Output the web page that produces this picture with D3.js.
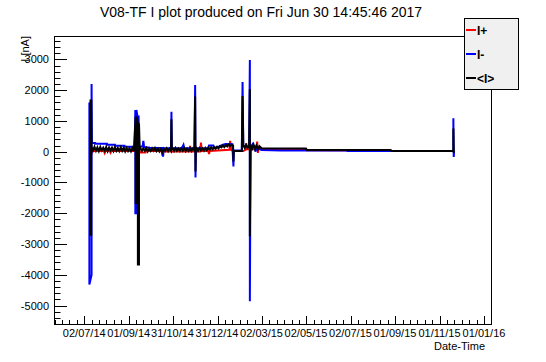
<!DOCTYPE html>
<html>
<head>
<meta charset="utf-8">
<script src="https://cdn.jsdelivr.net/npm/d3@7"></script>
<style>
body { margin: 0; background: #fff; }
svg { display: block; font-family: "Liberation Sans", Arial, sans-serif; }
</style>
</head>
<body>
<div id="display"><svg width="546" height="362"></svg></div>
<script>
// tick labels of the time axis (dd/mm/yy)
var tickLabels = ["02/07/14","01/09/14","31/10/14","31/12/14","02/03/15",
		  "02/05/15","02/07/15","01/09/15","01/11/15","01/01/16"];
var yTicks = [-5000,-4000,-3000,-2000,-1000,0,1000,2000,3000];

// I+ (red)
var iPlus = [
    ["2014-07-10", 0], ["2014-07-12", -60], ["2014-07-13", 20], ["2014-07-29", 20],
    ["2014-07-30", -40], ["2014-07-31", 20], ["2014-08-06", 20], ["2014-08-07", -30],
    ["2014-08-08", 20], ["2014-09-16", 20], ["2014-09-17", -30], ["2014-09-24", -30],
    ["2014-09-25", 20], ["2014-10-16", 20], ["2014-10-17", -125], ["2014-10-18", 10],
    ["2014-11-23", 10], ["2014-11-24", 190], ["2014-11-25", 10], ["2014-12-08", 10],
    ["2014-12-09", 300], ["2014-12-10", 20], ["2014-12-19", 20], ["2014-12-20", -75],
    ["2014-12-21", 20], ["2015-01-17", 60], ["2015-01-18", 350], ["2015-01-19", 60],
    ["2015-01-22", 20], ["2015-02-05", 20], ["2015-02-08", 60], ["2015-02-09", 275],
    ["2015-02-10", 80], ["2015-02-23", 80], ["2015-02-24", 330], ["2015-02-25", -40],
    ["2015-02-26", 90], ["2015-05-02", 80], ["2015-05-03", 50], ["2015-08-26", 40],
    ["2015-08-27", 25], ["2015-11-21", 20]
];

// I- (blue)
var iMinus = [
    ["2014-07-09", 1600], ["2014-07-09", -4320], ["2014-07-12", -4000],
    ["2014-07-12", 2200], ["2014-07-12 12", 280], ["2014-07-17", 280],
    ["2014-07-17", 255], ["2014-08-02", 255], ["2014-08-02", 225], ["2014-08-13", 225],
    ["2014-08-13", 190], ["2014-08-26", 190], ["2014-08-26", 160], ["2014-09-09", 160],
    ["2014-09-10", 1355], ["2014-09-10", -2000], ["2014-09-11 12", -2000],
    ["2014-09-11 12", 1355], ["2014-09-13", 1140], ["2014-09-14 12", 1140],
    ["2014-09-15", 170], ["2014-09-20", 170], ["2014-09-21", 350], ["2014-09-22", 150],
    ["2014-09-30", 130], ["2014-10-17", 120], ["2014-10-18", -160], ["2014-10-19", 110],
    ["2014-10-29", 110], ["2014-10-29 12", 1300], ["2014-10-30", 110], ["2014-11-13", 120],
    ["2014-11-15", 220], ["2014-11-16", 110], ["2014-11-30", 110], ["2014-12-01", 2166],
    ["2014-12-01 12", -840], ["2014-12-02", 120], ["2014-12-19", 110], ["2014-12-20", 200],
    ["2014-12-26", 200], ["2014-12-27", 120], ["2015-01-03", 170], ["2015-01-08", 230],
    ["2015-01-12", 250], ["2015-01-21", 240], ["2015-01-22 12", -483], ["2015-01-23", 40],
    ["2015-02-03", 40], ["2015-02-04", 2263], ["2015-02-05", 180], ["2015-02-13", 150],
    ["2015-02-14", 2977], ["2015-02-14", -4860], ["2015-02-15", 150], ["2015-02-18", 250],
    ["2015-02-21", 100], ["2015-02-22", 0], ["2015-02-23", 150], ["2015-03-02", 55],
    ["2015-03-28", 40], ["2015-06-28", 40], ["2015-06-28", 20], ["2015-11-20", 20],
    ["2015-11-20", 1090], ["2015-11-20 12", -170], ["2015-11-21", 20]
];

// <I> (black)
var iMean = [
    ["2014-07-10 12", 120], ["2014-07-10 12", 1700], ["2014-07-10 12", -2700],
    ["2014-07-11 12", -2700], ["2014-07-11 12", 1700], ["2014-07-12", 150],
    ["2014-07-14", 40], ["2014-07-16", 160], ["2014-07-18", 30], ["2014-07-20", 140],
    ["2014-07-22", 20], ["2014-07-24", 150], ["2014-07-26", 40], ["2014-07-28", 130],
    ["2014-07-30", 30], ["2014-08-01", 150], ["2014-08-03", 20], ["2014-08-05", 140],
    ["2014-08-07", 40], ["2014-08-09", 130], ["2014-08-11", 20], ["2014-08-13", 150],
    ["2014-08-15", 30], ["2014-08-17", 120], ["2014-08-19", 20], ["2014-08-21", 140],
    ["2014-08-23", 30], ["2014-08-25", 130], ["2014-08-27", 10], ["2014-08-29", 120],
    ["2014-08-31", 20], ["2014-09-02", 110], ["2014-09-04", 10], ["2014-09-06", 120],
    ["2014-09-08", 20], ["2014-09-10 12", 1140], ["2014-09-10 12", -1670],
    ["2014-09-12", -1670], ["2014-09-12", 1140], ["2014-09-13 12", 920],
    ["2014-09-13 12", -3670], ["2014-09-15", -3670], ["2014-09-15", 920],
    ["2014-09-16", 100], ["2014-09-17", 120], ["2014-09-19", 20], ["2014-09-21", 110],
    ["2014-09-23", 30], ["2014-09-25", 120], ["2014-09-27", 10], ["2014-09-29", 100],
    ["2014-10-01", 20], ["2014-10-03", 110], ["2014-10-05", 30], ["2014-10-07", 120],
    ["2014-10-09", 20], ["2014-10-11", 100], ["2014-10-13", 10], ["2014-10-15", 90],
    ["2014-10-17", -20], ["2014-10-19", 100], ["2014-10-21", 30], ["2014-10-23", 110],
    ["2014-10-25", 20], ["2014-10-27", 100], ["2014-10-29", 30], ["2014-10-29 12", 1050],
    ["2014-10-30", 60], ["2014-10-31", 110], ["2014-11-02", 20], ["2014-11-04", 120],
    ["2014-11-06", 30], ["2014-11-08", 100], ["2014-11-10", 20], ["2014-11-12", 110],
    ["2014-11-14", 30], ["2014-11-16", 120], ["2014-11-18", 20], ["2014-11-20", 100],
    ["2014-11-22", 30], ["2014-11-24", 110], ["2014-11-26", 20], ["2014-11-28", 100],
    ["2014-11-30", 40], ["2014-12-01", 1790], ["2014-12-01 12", -645], ["2014-12-02", 60],
    ["2014-12-03", 110], ["2014-12-05", 30], ["2014-12-07", 120], ["2014-12-09", 40],
    ["2014-12-11", 110], ["2014-12-13", 30], ["2014-12-15", 120], ["2014-12-17", 50],
    ["2014-12-19", 130], ["2014-12-21", 60], ["2014-12-23", 140], ["2014-12-25", 80],
    ["2014-12-27", 150], ["2014-12-29", 90], ["2014-12-31", 160], ["2015-01-02", 110],
    ["2015-01-04", 180], ["2015-01-06", 140], ["2015-01-08", 200], ["2015-01-10", 150],
    ["2015-01-12", 220], ["2015-01-14", 170], ["2015-01-16", 230], ["2015-01-18", 180],
    ["2015-01-20", 230], ["2015-01-22", 200], ["2015-01-22 12", -320], ["2015-01-23", 26],
    ["2015-02-03", 26], ["2015-02-04", 1810], ["2015-02-05", 220], ["2015-02-07", 120],
    ["2015-02-09", 220], ["2015-02-11", 130], ["2015-02-13", 200], ["2015-02-14", 2026],
    ["2015-02-14", -2752], ["2015-02-15", 200], ["2015-02-17", 100], ["2015-02-19", 230],
    ["2015-02-21", 90], ["2015-02-23", 200], ["2015-02-25", 80], ["2015-02-27", 180],
    ["2015-03-02", 110], ["2015-05-02", 100], ["2015-05-03", 55], ["2015-08-26", 55],
    ["2015-08-27", 25], ["2015-11-20", 25], ["2015-11-20", 750], ["2015-11-20 12", -30],
    ["2015-11-21", 25]
];

var parseDay = d3.utcParse("%Y-%m-%d"), parseHour = d3.utcParse("%Y-%m-%d %H");
function parse(s) { return s.length > 10 ? parseHour(s) : parseDay(s); }
var parseTick = d3.utcParse("%d/%m/%y");

var svg = d3.select("#display svg");
var L = 54, R = 491, T = 36, B = 324;

var x = d3.scaleUtc()
    .domain([new Date(Date.UTC(2014,4,21,12)), new Date(Date.UTC(2016,0,10,14))])
    .range([L, R]);
var y = d3.scaleLinear().domain([-5600, 3760]).range([B, T]);

// title
svg.append("text").text("V08-TF I plot produced on Fri Jun 30 14:45:46 2017")
    .attr("x", 261).attr("y", 17).attr("text-anchor", "middle")
    .attr("font-size", "14px");

// series
var line = d3.line()
    .x(function(d) { return x(parse(d[0])); })
    .y(function(d) { return y(d[1]); });
var series = [[iPlus, "#ff0000"], [iMinus, "#0000ff"], [iMean, "#000000"]];
var plot = svg.append("g");
series.forEach(function(s) {
    plot.append("path").attr("d", line(s[0]))
	.attr("fill", "none").attr("stroke", s[1])
	.attr("stroke-width", 2).attr("stroke-linejoin", "miter");
});

// frame
svg.append("rect").attr("x", L + 0.5).attr("y", T + 0.5)
    .attr("width", R - L).attr("height", B - T)
    .attr("fill", "none").attr("stroke", "#000");

// y axis: ticks inside the frame
var ax = svg.append("g").attr("stroke", "#000").attr("stroke-width", 1);
d3.range(-5400, 3700, 200).forEach(function(v) {
    var major = v % 1000 === 0;
    var py = Math.round(y(v)) + 0.5;
    ax.append("line").attr("x1", L).attr("x2", L + (major ? 13 : 6.5))
	.attr("y1", py).attr("y2", py);
});
svg.selectAll(".ylab").data(yTicks).enter().append("text")
    .attr("x", 49).attr("y", function(d) { return y(d) + 4; })
    .attr("text-anchor", "end").attr("font-size", "11px")
    .text(function(d) { return d; });
svg.append("text").text("I [nA]")
    .attr("transform", "translate(29,36) rotate(-90)")
    .attr("text-anchor", "end").attr("font-size", "11px");

// x axis: major ticks at labels, 6 subdivisions
var tickPos = tickLabels.map(function(t) { return x(parseTick(t)); });
var step = (tickPos[tickPos.length - 1] - tickPos[0]) / (tickPos.length - 1) / 6;
for (var px = tickPos[0] - 4 * step; px <= R + 0.5; px += step) {
    var k = Math.round((px - tickPos[0]) / step);
    var xx = Math.round(px) + 0.5;
    ax.append("line").attr("x1", xx).attr("x2", xx)
	.attr("y1", B).attr("y2", B - (k % 6 === 0 ? 8 : 4));
}
svg.selectAll(".xlab").data(tickLabels).enter().append("text")
    .attr("x", function(d, i) { return tickPos[i]; }).attr("y", 337)
    .attr("text-anchor", "middle").attr("font-size", "11px")
    .text(function(d) { return d; });
svg.append("text").text("Date-Time")
    .attr("x", 485).attr("y", 350).attr("text-anchor", "end")
    .attr("font-size", "11px");

// legend
var lg = svg.append("g");
lg.append("rect").attr("x", 464.5).attr("y", 18.5).attr("width", 54).attr("height", 71)
    .attr("fill", "#f0f0f0").attr("stroke", "#000");
var legendNames = ["I+", "I-", "<I>"];
var legendY = [30, 54, 78];
series.forEach(function(s, i) {
    lg.append("line").attr("x1", 466).attr("x2", 476)
	.attr("y1", legendY[i]).attr("y2", legendY[i])
	.attr("stroke", s[1]).attr("stroke-width", 2);
    lg.append("text").text(legendNames[i])
	.attr("x", 477).attr("y", legendY[i] + 4.5)
	.attr("font-size", "12px").attr("font-weight", "bold");
});
</script>
</body>
</html>
